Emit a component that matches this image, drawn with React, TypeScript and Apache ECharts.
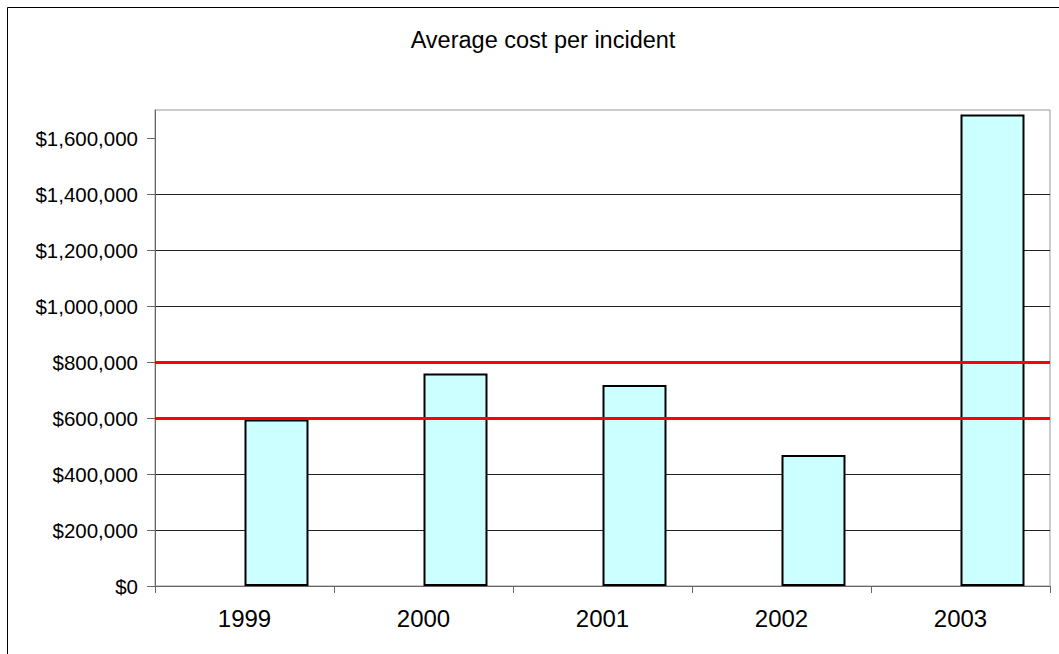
import React, { useEffect, useRef } from "react";
import * as echarts from "echarts";

// Average cost per incident, by year
const years = ["1999", "2000", "2001", "2002", "2003"];
const avgCost = [595000, 759000, 718000, 468000, 1684000];
// Empty leading slot in each year's cluster (keeps bars right of centre)
const emptySlot = [null, null, null, null, null];
// Reference thresholds drawn as horizontal red lines
const thresholds = [800000, 600000];
// Value axis range and tick labels
const yMax = 1700000;
const yTicks = [0, 200000, 400000, 600000, 800000, 1000000, 1200000, 1400000, 1600000];

const FONT = "'Liberation Sans', Arial, sans-serif";

const fmtDollar = (v: number) => "$" + Math.round(v).toLocaleString("en-US");

export default function App() {
  const ref = useRef<HTMLDivElement>(null);

  useEffect(() => {
    if (!ref.current) return;
    const chart = echarts.init(ref.current, null, { renderer: "svg" });
    chart.setOption({
      animation: false,
      backgroundColor: "#ffffff",
      textStyle: { fontFamily: FONT },
      title: {
        text: "Average cost per incident",
        left: 538,
        textAlign: "center",
        top: 23,
        textStyle: { fontFamily: FONT, fontSize: 23.5, fontWeight: "normal", color: "#000" },
      },
      graphic: [
        {
          type: "rect",
          shape: { x: 7.5, y: 7.5, width: 1200, height: 800 },
          style: { fill: "none", stroke: "#000", lineWidth: 1 },
          silent: true,
          z: 100,
        },
      ],
      grid: {
        left: 155,
        top: 110,
        right: 9,
        bottom: 68,
        show: true,
        borderColor: "#999",
        borderWidth: 1,
        backgroundColor: "transparent",
      },
      xAxis: {
        type: "category",
        data: years,
        boundaryGap: true,
        axisLine: { lineStyle: { color: "#666", width: 1 } },
        axisTick: { show: true, length: 7, alignWithLabel: false, lineStyle: { color: "#666" } },
        axisLabel: { fontSize: 24, color: "#000", margin: 20, fontFamily: FONT },
        splitLine: { show: false },
      },
      yAxis: {
        type: "value",
        min: 0,
        max: yMax,
        interval: 200000,
        axisLine: { show: true, lineStyle: { color: "#666", width: 1 } },
        axisTick: {
          show: true,
          length: 8,
          customValues: yTicks,
          lineStyle: { color: "#666" },
        },
        axisLabel: {
          fontSize: 20.5,
          color: "#000",
          margin: 17,
          fontFamily: FONT,
          customValues: yTicks,
          formatter: (v: number) => fmtDollar(v),
        },
        splitLine: {
          show: true,
          showMinLine: false,
          showMaxLine: false,
          lineStyle: { color: "#222", width: 1 },
        },
      },
      series: [
        {
          name: "slot",
          type: "bar",
          data: emptySlot,
          barGap: "0%",
          barCategoryGap: "28.5%",
          silent: true,
        },
        {
          name: "Average cost per incident",
          type: "bar",
          data: avgCost,
          barGap: "0%",
          barCategoryGap: "28.5%",
          itemStyle: { color: "#ccffff", borderColor: "#000", borderWidth: 2 },
          markLine: {
            silent: true,
            symbol: "none",
            label: { show: false },
            lineStyle: { color: "#ff0000", width: 3, type: "solid" },
            data: thresholds.map((t) => ({ yAxis: t })),
            z: 10,
          },
        },
      ],
    });
    return () => chart.dispose();
  }, []);

  return (
    <div
      ref={ref}
      style={{ position: "absolute", left: 0, top: 0, width: 1059, height: 654 }}
    />
  );
}
